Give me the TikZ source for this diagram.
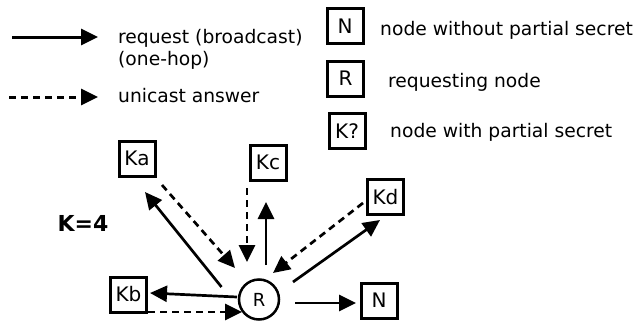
\documentclass[tikz,border=0pt]{standalone}
\usepackage{fontspec}
\setmainfont{DejaVu Sans}
\usetikzlibrary{arrows.meta, positioning, calc}
\tikzstyle{keybox}  = [rectangle, draw=black, line width=3pt, minimum width=36pt, minimum height=35pt,
    inner sep=0pt, font=\fontsize{20}{24}\selectfont]
\tikzstyle{reqnode} = [circle, draw=black, line width=2.5pt, minimum size=40pt,
    inner sep=0pt, font=\fontsize{18}{22}\selectfont]
\tikzstyle{legtext} = [anchor=base west, inner sep=0pt, font=\fontsize{18.7}{22}\selectfont]
\tikzstyle{arrow}   = [line width=2.7pt, -{Triangle[length=17pt, width=16pt]}]
\tikzstyle{answer}  = [arrow, dash pattern=on 7pt off 5pt]

\begin{document}
\begin{tikzpicture}[x=1pt, y=-1pt]
    \useasboundingbox (0,0) rectangle (642,324);
    % legend: arrows
    \coordinate (reqA) at (12,37);
    \coordinate (reqB) at (98,37);
    \coordinate (ansA) at (9,97);
    \coordinate (ansB) at (98,97);
    \draw [arrow, line width=3pt]  (reqA) -- (reqB);
    \draw [answer, line width=3pt] (ansA) -- (ansB);
    \node (reqtxt)  [legtext] at (118,43)  {request (broadcast)};
    \node (hoptxt)  [legtext] at (118,65)  {(one-hop)};
    \node (anstxt)  [legtext] at (118,102) {unicast answer};
    % legend: node kinds
    \node (legN) [keybox] at (345,26)    {N};
    \node (legR) [keybox] at (345.5,78.5) {R};
    \node (legK) [keybox] at (347,131)   {K?};
    \node (legNtxt) [legtext] at (380,35)  {node without partial secret};
    \node (legRtxt) [legtext] at (388,87)  {requesting node};
    \node (legKtxt) [legtext] at (390,137) {node with partial secret};
    % threshold
    \node (thr) [font=\fontsize{22}{26}\selectfont\bfseries] at (83,223) {K=4};
    % nodes
    \node (R)  [reqnode] at (259,299.5) {R};
    \node (Ka) [keybox]  at (137,158.5)  {Ka};
    \node (Kb) [keybox]  at (128.5,294.5) {Kb};
    \node (Kc) [keybox]  at (268,162.5)  {Kc};
    \node (Kd) [keybox]  at (385.5,197)  {Kd};
    \node (N)  [keybox]  at (379,300.5)  {N};
    % broadcast request
    \draw [arrow] ($(R)+(-37.5,-12.5)$) -- ($(Ka)+(8,33.5)$);
    \draw [arrow] ($(R)+(7,-34.5)$)     -- ($(Kc)+(-2,39.5)$);
    \draw [arrow] ($(R)+(34,-17.5)$)    -- ($(Kd)+(-5.5,23)$);
    \draw [arrow] ($(R)+(-22,-2.5)$)    -- ($(Kb)+(21.5,-1.5)$);
    \draw [arrow] ($(R)+(36,3.5)$)      -- ($(N)+(-23,2.5)$);
    % answers
    \draw [answer] ($(Ka)+(25,26.5)$)  -- ($(R)+(-24,-31.5)$);
    \draw [answer] ($(Kc)+(-21,25.5)$) -- ($(R)+(-12,-37.5)$);
    \draw [answer] ($(Kd)+(-22.5,6)$)  -- ($(R)+(14,-26.5)$);
    \draw [answer] ($(Kb)+(19.5,17.5)$) -- ($(R)+(-17,12.5)$);
\end{tikzpicture}
\end{document}
